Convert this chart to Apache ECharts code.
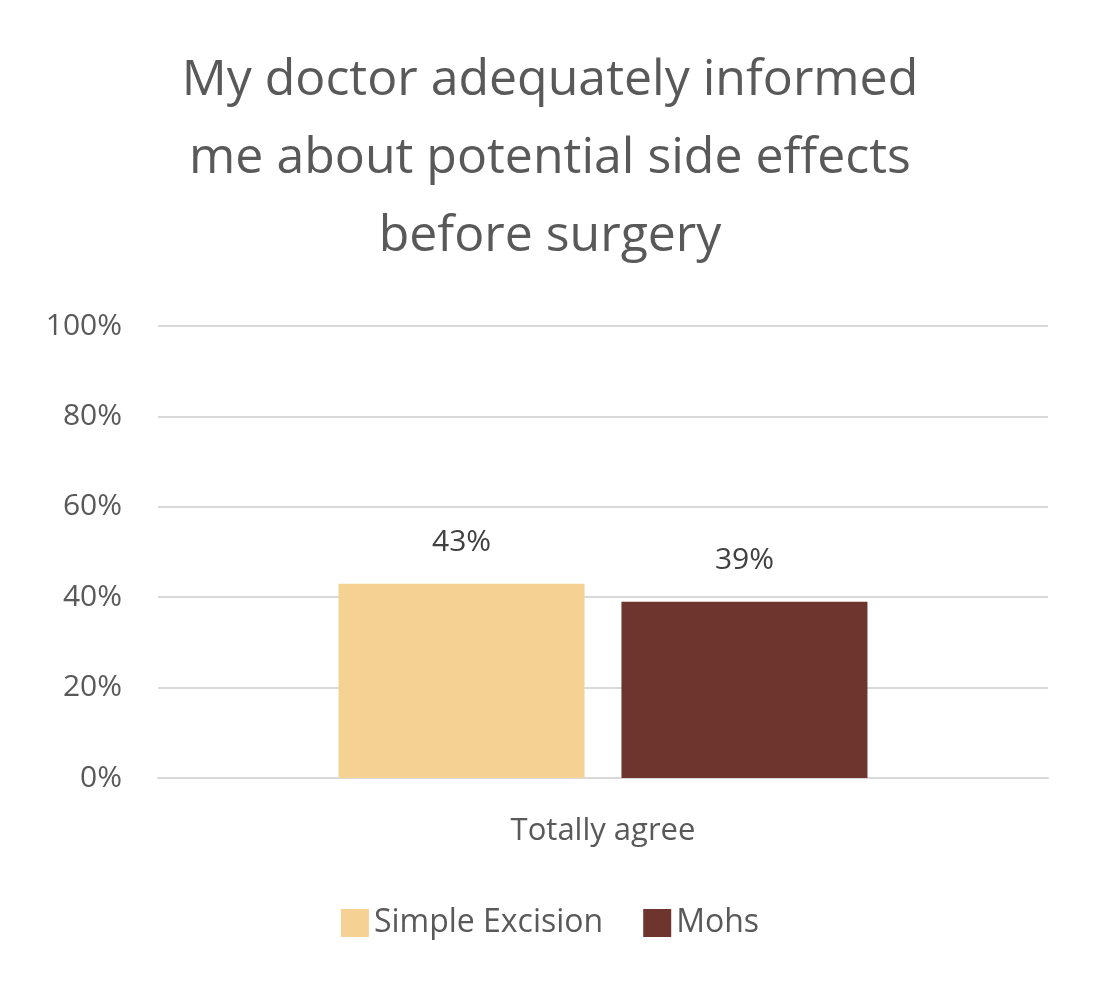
<!DOCTYPE html>
<html>
<head>
<meta charset="utf-8">
<script src="https://cdn.jsdelivr.net/npm/echarts@6/dist/echarts.min.js"></script>
<style>html,body{margin:0;background:#fff}#chart{width:1100px;height:990px}</style>
</head>
<body>
<div id="chart"></div>
<script>
const categories = ['Totally agree'];
const seriesNames = ['Simple Excision', 'Mohs'];
const simpleExcision = [43];
const mohs = [39];
const colors = ['#F5D193', '#6E342E'];

const chart = echarts.init(document.getElementById('chart'));
const font = '"Open Sans", sans-serif';
const label = {
    show: true, position: 'top', distance: 26,
    fontSize: 30, color: '#404040', fontFamily: font,
    formatter: p => p.value + '%'
};
chart.setOption({
    animation: false,
    title: {
        text: 'My doctor adequately informed\nme about potential side effects\nbefore surgery',
        left: 'center', top: 37,
        textStyle: { fontSize: 50, fontWeight: 'normal', color: '#595959', lineHeight: 78, fontFamily: font }
    },
    legend: {
        bottom: 46, left: 'center', itemWidth: 28, itemHeight: 28, itemGap: 40, icon: 'rect',
        textStyle: { fontSize: 32, color: '#595959', fontFamily: font },
        data: seriesNames
    },
    grid: { left: 158, right: 52, top: 326, bottom: 212, containLabel: false },
    xAxis: {
        type: 'category', data: categories,
        axisLine: { lineStyle: { color: '#d9d9d9', width: 2 } },
        axisTick: { show: false },
        axisLabel: { fontSize: 31, color: '#595959', margin: 38, fontFamily: font }
    },
    yAxis: {
        type: 'value', min: 0, max: 100, interval: 20,
        axisLabel: { formatter: '{value}%', fontSize: 30, color: '#595959', margin: 36, fontFamily: font },
        splitLine: { lineStyle: { color: '#d9d9d9', width: 2 } },
        axisLine: { show: false }, axisTick: { show: false }
    },
    series: [
        { name: seriesNames[0], type: 'bar', data: simpleExcision, barWidth: 246, barGap: '15%', itemStyle: { color: colors[0] }, label },
        { name: seriesNames[1], type: 'bar', data: mohs, barWidth: 246, itemStyle: { color: colors[1] }, label }
    ]
});
</script>
</body>
</html>
